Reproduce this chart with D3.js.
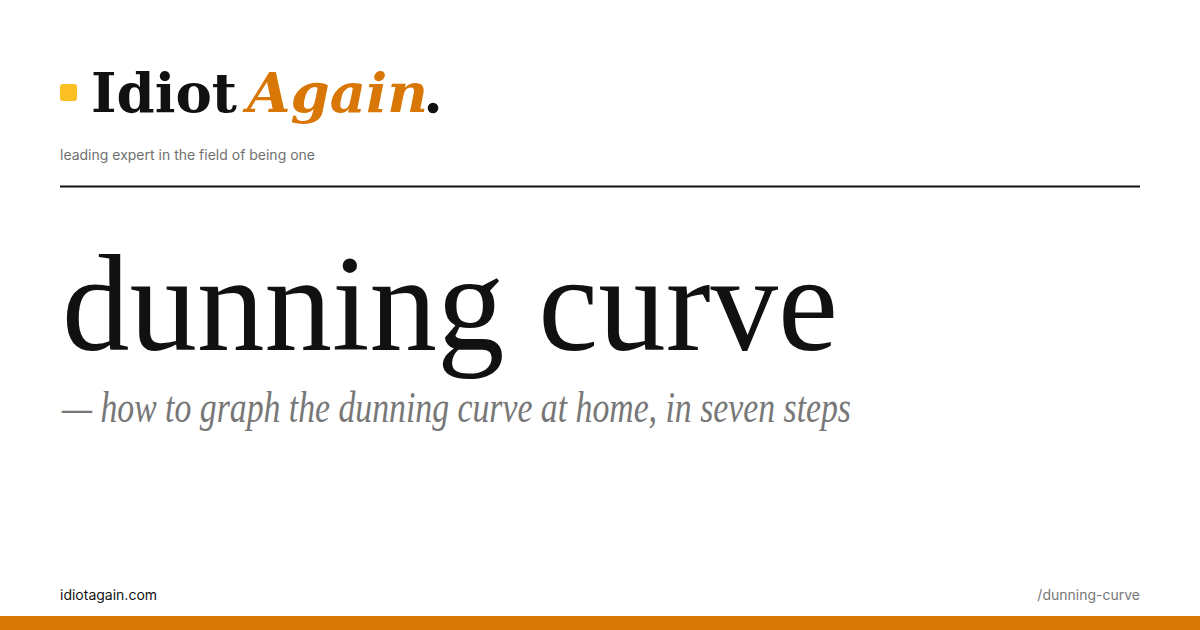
<!DOCTYPE html>
<html>
<head>
<meta charset="utf-8">
<script src="https://cdn.jsdelivr.net/npm/d3@7"></script>
<style>
  html, body { margin: 0; padding: 0; background: #ffffff; }
  svg { display: block; }
</style>
</head>
<body>
<div id="card"></div>
<script>
// ---- content ----
const brandWords = ["Idiot", "Again", "."];
const tagline = ["leading expert in the field of being one"];
const titleText = ["dunning curve"];
const subtitleText = ["\u2014 how to graph the dunning curve at home, in seven steps"];
const footerLeft = ["idiotagain.com"];
const footerRight = ["/dunning-curve"];

const W = 1200, H = 630;
const svg = d3.select("#card").append("svg").attr("width", W).attr("height", H);
svg.append("rect").attr("width", W).attr("height", H).attr("fill", "#ffffff");

// horizontal scale for the content column
const x = d3.scaleLinear().domain([0, 1]).range([60, 1140]);

// brand mark
svg.append("rect").attr("x", x(0)).attr("y", 84).attr("width", 17).attr("height", 17)
  .attr("rx", 3).attr("fill", "#fbbf24");

svg.append("text").attr("x", 91).attr("y", 112)
  .attr("font-family", "'DejaVu Serif', serif").attr("font-weight", 700).attr("font-size", 54)
  .attr("fill", "#111111")
  .attr("textLength", 146).attr("lengthAdjust", "spacingAndGlyphs")
  .text(brandWords[0]);
svg.append("text").attr("x", 247).attr("y", 112)
  .attr("font-family", "'DejaVu Serif', serif").attr("font-weight", 700).attr("font-style", "italic")
  .attr("font-size", 54).attr("fill", "#d97706")
  .attr("textLength", 181).attr("lengthAdjust", "spacingAndGlyphs")
  .text(brandWords[1]);
svg.append("circle").attr("cx", 433).attr("cy", 108).attr("r", 5.3).attr("fill", "#111111");

// tagline
svg.append("text").attr("x", x(0)).attr("y", 160)
  .attr("font-family", "Inter, sans-serif").attr("font-size", 14).attr("fill", "#707070")
  .text(tagline[0]);

// divider
svg.append("line").attr("x1", x(0)).attr("x2", x(1)).attr("y1", 186.5).attr("y2", 186.5)
  .attr("stroke", "#111111").attr("stroke-width", 2);

// title
svg.append("text").attr("x", 62).attr("y", 350)
  .attr("font-family", "'Liberation Serif', serif").attr("font-size", 137).attr("fill", "#111111")
  .attr("textLength", 776).attr("lengthAdjust", "spacingAndGlyphs")
  .text(titleText[0]);

// subtitle
svg.append("text").attr("x", 62).attr("y", 422)
  .attr("font-family", "'Liberation Serif', serif").attr("font-style", "italic")
  .attr("font-size", 45).attr("fill", "#777777")
  .attr("textLength", 789).attr("lengthAdjust", "spacingAndGlyphs")
  .text(subtitleText[0]);

// footer
svg.append("text").attr("x", x(0)).attr("y", 600)
  .attr("font-family", "Inter, sans-serif").attr("font-size", 14).attr("fill", "#111111")
  .text(footerLeft[0]);
svg.append("text").attr("x", x(1)).attr("y", 600).attr("text-anchor", "end")
  .attr("font-family", "Inter, sans-serif").attr("font-size", 14).attr("fill", "#777777")
  .text(footerRight[0]);

svg.append("rect").attr("x", 0).attr("y", 616).attr("width", W).attr("height", 14).attr("fill", "#d97706");
</script>
</body>
</html>
